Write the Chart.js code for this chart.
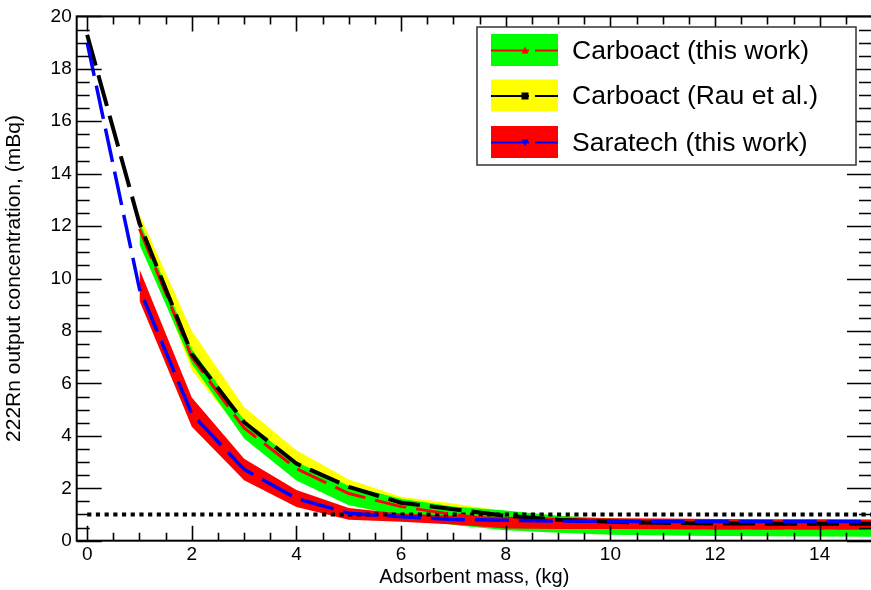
<!DOCTYPE html>
<html><head><meta charset="utf-8">
<script src="https://cdn.jsdelivr.net/npm/chart.js@4.4.1/dist/chart.umd.min.js"></script>
<style>
html,body{margin:0;padding:0;background:#fff;overflow:hidden;}
#wrap{position:relative;width:874px;height:590px;}
</style></head><body>
<div id="wrap"><canvas id="c" width="874" height="590"></canvas></div>
<script>
// ---- data ----
const massKg      = [0, 1, 2, 3, 4, 5, 6, 7, 8, 9, 10, 11, 12, 13, 14, 15];
const bandMassKg  = [1, 2, 3, 4, 5, 6, 7, 8, 9, 10, 11, 12, 13, 14, 15];

// Carboact (this work) – red dashed line, green band (from 1 kg)
const carboLine  = [11.9, 7.0, 4.3, 2.75, 1.8, 1.3, 1.0, 0.75, 0.6, 0.52, 0.5, 0.49, 0.48, 0.48, 0.48];
const carboUpper = [12.2, 7.3, 4.6, 3.0, 2.1, 1.6, 1.3, 1.15, 0.95, 0.85, 0.8, 0.78, 0.78, 0.78, 0.78];
const carboLower = [11.3, 6.74, 3.9, 2.3, 1.35, 0.95, 0.6, 0.4, 0.3, 0.23, 0.2, 0.18, 0.17, 0.16, 0.15];

// Carboact (Rau et al.) – black dashed line, yellow band
const rauLine  = [19.3, 12.1, 7.12, 4.52, 2.94, 2.05, 1.45, 1.2, 0.95, 0.8, 0.72, 0.68, 0.66, 0.65, 0.65, 0.65];
const rauUpper = [12.45, 8.0, 5.1, 3.45, 2.33, 1.68, 1.42, 1.12, 0.95, 0.86, 0.82, 0.8, 0.8, 0.8, 0.8];
const rauLower = [11.7, 6.5, 4.0, 2.5, 1.75, 1.2, 1.0, 0.8, 0.65, 0.55, 0.5, 0.5, 0.5, 0.5, 0.5];

// Saratech (this work) – blue dashed line, red band
const saraLine  = [19.0, 9.6, 4.84, 2.72, 1.61, 1.05, 0.91, 0.81, 0.78, 0.75, 0.74, 0.73, 0.73, 0.73, 0.73, 0.73];
const saraUpper = [10.35, 5.46, 3.13, 1.93, 1.25, 1.04, 0.95, 0.91, 0.88, 0.86, 0.85, 0.83, 0.82, 0.82, 0.81];
const saraLower = [9.15, 4.35, 2.31, 1.29, 0.8, 0.72, 0.62, 0.47, 0.45, 0.45, 0.44, 0.43, 0.43, 0.43, 0.43];

// horizontal reference level
const limitMassKg = [0, 15];
const limitLevel  = [1.0, 1.0];

const legendLabels = ['Carboact (this work)', 'Carboact (Rau et al.)', 'Saratech (this work)'];
const xTickValues = [0, 2, 4, 6, 8, 10, 12, 14];
const yTickValues = [0, 2, 4, 6, 8, 10, 12, 14, 16, 18, 20];
const xTitle = 'Adsorbent mass, (kg)';
const yTitle = '222Rn output concentration, (mBq)';

// ---- helpers ----
const pts = (xs, ys) => xs.map((x, i) => ({x: x, y: ys[i]}));
const FONT = '"Liberation Sans", Arial, sans-serif';

function lineDs(label, xs, ys, color, width, dash, order) {
  return {label, data: pts(xs, ys), borderColor: color, borderWidth: width, borderDash: dash,
          pointRadius: 0, fill: false, tension: 0, order};
}
function bandDs(label, xs, ys, color, fillTarget, order) {
  return {label, data: pts(xs, ys), borderWidth: 0, borderColor: 'rgba(0,0,0,0)', pointRadius: 0,
          backgroundColor: color, fill: fillTarget, tension: 0, order};
}

const datasets = [
  lineDs(legendLabels[0], bandMassKg, carboLine, '#ff0000', 3, [32, 10], 2), // 0
  lineDs(legendLabels[1], massKg, rauLine, '#000000', 4, [32, 10], 1),       // 1
  lineDs(legendLabels[2], massKg, saraLine, '#0000ff', 3.5, [34, 10], 0),    // 2
  lineDs('limit', limitMassKg, limitLevel, '#000000', 4, [4.2, 4.5], 3),     // 3
  bandDs('rau band', bandMassKg, rauUpper, '#ffff00', 5, 12),                // 4
  bandDs('rau band low', bandMassKg, rauLower, '#ffff00', false, 12),        // 5
  bandDs('carbo band', bandMassKg, carboUpper, '#00ff00', 7, 10),            // 6
  bandDs('carbo band low', bandMassKg, carboLower, '#00ff00', false, 10),    // 7
  bandDs('sara band', bandMassKg, saraUpper, '#ff0000', 9, 8),               // 8
  bandDs('sara band low', bandMassKg, saraLower, '#ff0000', false, 8)        // 9
];

// inward ticks + frame
const framePlugin = {
  id: 'frame',
  afterDatasetsDraw(chart) {
    const ctx = chart.ctx, a = chart.chartArea, xs = chart.scales.x, ys = chart.scales.y;
    ctx.save();
    ctx.strokeStyle = '#000';
    ctx.lineWidth = 2;
    ctx.strokeRect(a.left, a.top, a.right - a.left, a.bottom - a.top);
    ctx.lineWidth = 1.6;
    ctx.beginPath();
    for (let v = 0; v <= xs.max + 1e-9; v += 0.5) {
      const px = Math.round(xs.getPixelForValue(v)) + 0.5;
      const len = (Math.abs(v % 2) < 1e-9) ? 15 : 8;
      ctx.moveTo(px, a.bottom); ctx.lineTo(px, a.bottom - len);
      ctx.moveTo(px, a.top); ctx.lineTo(px, a.top + len);
    }
    for (let v = 0; v <= ys.max + 1e-9; v += 0.5) {
      const py = Math.round(ys.getPixelForValue(v)) + 0.5;
      const len = (Math.abs(v % 2) < 1e-9) ? 25 : 13;
      ctx.moveTo(a.left, py); ctx.lineTo(a.left + len, py);
      ctx.moveTo(a.right, py); ctx.lineTo(a.right - len, py);
    }
    ctx.stroke();
    ctx.restore();
  }
};

// legend box
const legendPlugin = {
  id: 'boxLegend',
  afterDraw(chart) {
    const ctx = chart.ctx;
    const box = {x: 477, y: 27, w: 379, h: 138};
    const rows = [
      {fill: '#00ff00', line: '#ff0000', marker: 'up', cy: 50.5},
      {fill: '#ffff00', line: '#000000', marker: 'square', cy: 96},
      {fill: '#ff0000', line: '#0000ff', marker: 'down', cy: 142.5}
    ];
    ctx.save();
    ctx.fillStyle = '#fff';
    ctx.fillRect(box.x, box.y, box.w, box.h);
    ctx.strokeStyle = '#333';
    ctx.lineWidth = 1.5;
    ctx.strokeRect(box.x, box.y, box.w, box.h);
    rows.forEach((r, i) => {
      ctx.fillStyle = r.fill;
      ctx.fillRect(491, r.cy - 16.5, 67, 32);
      ctx.strokeStyle = r.line;
      ctx.lineWidth = 2;
      ctx.beginPath();
      ctx.moveTo(491, r.cy); ctx.lineTo(529, r.cy);
      ctx.moveTo(535, r.cy); ctx.lineTo(558, r.cy);
      ctx.stroke();
      ctx.fillStyle = r.line;
      const mx = 525;
      ctx.beginPath();
      if (r.marker === 'up') { ctx.moveTo(mx - 3.5, r.cy + 3); ctx.lineTo(mx + 3.5, r.cy + 3); ctx.lineTo(mx, r.cy - 4); }
      else if (r.marker === 'down') { ctx.moveTo(mx - 3.5, r.cy - 3); ctx.lineTo(mx + 3.5, r.cy - 3); ctx.lineTo(mx, r.cy + 4); }
      else { ctx.rect(mx - 3.5, r.cy - 3.5, 7, 7); }
      ctx.closePath();
      ctx.fill();
      ctx.fillStyle = '#000';
      ctx.font = '26.5px ' + FONT;
      ctx.textBaseline = 'middle';
      ctx.textAlign = 'left';
      ctx.fillText(legendLabels[i], 572, r.cy + 1);
    });
    ctx.restore();
  }
};

new Chart(document.getElementById('c'), {
  type: 'line',
  data: {datasets},
  options: {
    responsive: false,
    devicePixelRatio: 1,
    animation: false,
    layout: {padding: {top: 13.5, right: 2, left: 0, bottom: 0}},
    plugins: {legend: {display: false}, tooltip: {enabled: false}, filler: {propagate: false}},
    elements: {line: {capBezierPoints: false}},
    scales: {
      x: {
        type: 'linear', min: -0.2, max: 15,
        grid: {display: false, drawTicks: false},
        border: {display: false},
        afterBuildTicks: s => { s.ticks = xTickValues.map(v => ({value: v})); },
        afterFit: s => { s.height = 49.3; },
        ticks: {color: '#000', padding: 3, font: {family: FONT, size: 19}, maxRotation: 0},
        title: {display: true, text: xTitle, color: '#000', padding: {top: 0, bottom: 1}, font: {family: FONT, size: 20}}
      },
      y: {
        type: 'linear', min: 0, max: 20,
        grid: {display: false, drawTicks: false},
        border: {display: false},
        afterBuildTicks: s => { s.ticks = yTickValues.map(v => ({value: v})); },
        afterFit: s => { s.width = 76.7; },
        ticks: {color: '#000', padding: 5, font: {family: FONT, size: 19}},
        title: {display: true, text: yTitle, color: '#000', padding: {top: 2, bottom: 0}, font: {family: FONT, size: 21}}
      }
    }
  },
  plugins: [framePlugin, legendPlugin]
});
</script>
</body></html>
